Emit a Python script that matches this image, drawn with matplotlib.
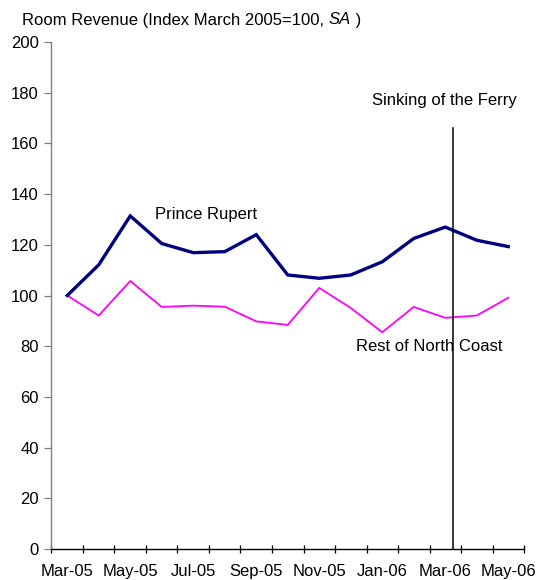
import numpy as np
import matplotlib
matplotlib.use('Agg')
import matplotlib.pyplot as plt

plt.rcParams['font.family'] = ['Liberation Sans', 'DejaVu Sans']
FS = 12

# --- Data ---
months = ['Mar-05', 'Apr-05', 'May-05', 'Jun-05', 'Jul-05', 'Aug-05', 'Sep-05', 'Oct-05',
          'Nov-05', 'Dec-05', 'Jan-06', 'Feb-06', 'Mar-06', 'Apr-06', 'May-06']
prince_rupert = [100, 112.1, 131.4, 120.5, 116.9, 117.3, 124.0, 108.1,
                 106.8, 108.1, 113.3, 122.5, 127.0, 121.8, 119.3]
rest_north_coast = [100, 92.1, 105.7, 95.5, 96.0, 95.6, 89.8, 88.4,
                    103.0, 95.1, 85.5, 95.5, 91.2, 92.1, 99.1]
ferry_sinking_x = 12.25
ferry_line_top = 166

fig = plt.figure(figsize=(5.38, 5.8), dpi=100)
ax = fig.add_axes([0.0957, 0.0534, 0.974 - 0.0957, 0.9276 - 0.0534])

x = np.arange(len(months))
ax.plot(x, rest_north_coast, color='#FF00FF', lw=1.3, solid_joinstyle='miter')
ax.plot(x, prince_rupert, color='#000080', lw=2.4, solid_joinstyle='miter')
ax.plot([ferry_sinking_x, ferry_sinking_x], [0, ferry_line_top], color='black', lw=1.1)

ax.set_xlim(-0.5, len(months) - 0.5)
ax.set_ylim(0, 200)
ax.set_yticks(np.arange(0, 201, 20))
ax.set_xticks(np.arange(-0.5, len(months), 1.0), minor=False)
ax.set_xticklabels([])
ax.set_xticks(x[::2], minor=True)
ax.set_xticklabels(months[::2], minor=True)
ax.tick_params(axis='x', which='major', direction='inout', length=6, width=0.9)
ax.tick_params(axis='x', which='minor', length=0, labelsize=FS, pad=11)
ax.tick_params(axis='y', direction='out', length=5, width=0.9, labelsize=FS, pad=4)

for s in ['top', 'right']:
    ax.spines[s].set_visible(False)
ax.spines['left'].set_color('#808080')
ax.spines['left'].set_linewidth(1.0)
ax.spines['bottom'].set_linewidth(1.0)
ax.tick_params(axis='y', color='#808080')

ax.text(2.79, 131.8, 'Prince Rupert', fontsize=FS, va='center', ha='left')
ax.text(9.16, 79.7, 'Rest of North Coast', fontsize=FS, va='center', ha='left')
ax.text(9.67, 176.8, 'Sinking of the Ferry', fontsize=FS, va='center', ha='left')

# Title with italic SA
t1 = fig.text(22 / 538, 1 - 20 / 580, 'Room Revenue (Index March 2005=100, ',
              fontsize=FS, va='center', ha='left')
t2 = ax.annotate('SA', xy=(1, 0), xycoords=t1, va='bottom', ha='left',
                 fontsize=FS, style='italic', annotation_clip=False)
ax.annotate(' )', xy=(1, 0), xycoords=t2, va='bottom', ha='left',
            fontsize=FS, annotation_clip=False)

fig.savefig('out.png', dpi=100)
